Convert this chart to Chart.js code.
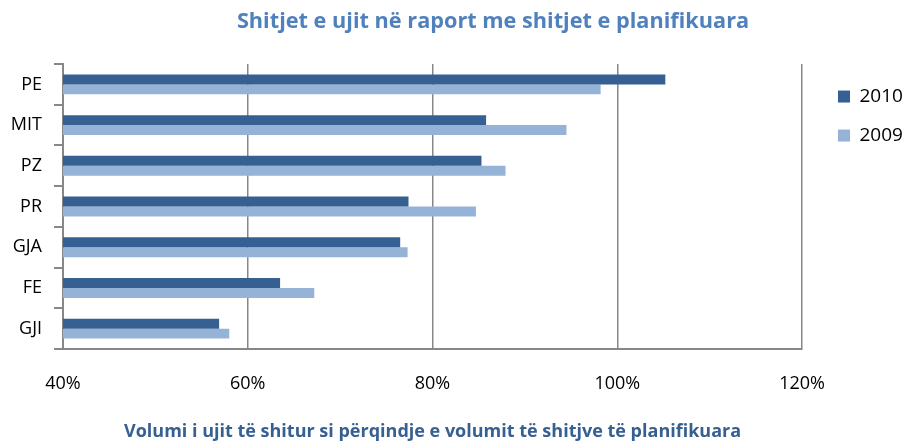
<!DOCTYPE html>
<html>
<head>
<meta charset="utf-8">
<script src="https://cdn.jsdelivr.net/npm/chart.js@4"></script>
<style>
html,body{margin:0;padding:0;background:#fff;}
#wrap{width:903px;height:444px;}
</style>
</head>
<body>
<div id="wrap"><canvas id="c" width="903" height="444"></canvas></div>
<script>
const categories = ['PE', 'MIT', 'PZ', 'PR', 'GJA', 'FE', 'GJI'];
const series2010 = [105.2, 85.8, 85.3, 77.4, 76.5, 63.5, 56.9];
const series2009 = [98.2, 94.5, 87.9, 84.7, 77.3, 67.2, 58.0];
const xTicks = [40, 60, 80, 100, 120];
const chartTitle = 'Shitjet e ujit në raport me shitjet e planifikuara';
const xTitle = 'Volumi i ujit të shitur si përqindje e volumit të shitjve të planifikuara';

const FONT = "'Open Sans', 'Liberation Sans', sans-serif";
const GRID = '#878787';

const placeBlocks = {
  id: 'placeBlocks',
  afterLayout(chart) {
    if (chart.titleBlock) { chart.titleBlock.left = 83; chart.titleBlock.right = 903; }
    if (chart.legend) {
      const w = chart.legend.right - chart.legend.left;
      chart.legend.left = 818; chart.legend.right = 818 + w;
      chart.legend.top += 3; chart.legend.bottom += 3;
    }
  }
};

new Chart(document.getElementById('c'), {
  type: 'bar',
  data: {
    labels: categories,
    datasets: [
      { label: '2010', data: series2010, backgroundColor: '#376092', borderWidth: 0 },
      { label: '2009', data: series2009, backgroundColor: '#95B3D7', borderWidth: 0 }
    ]
  },
  plugins: [placeBlocks],
  options: {
    indexAxis: 'y',
    responsive: false,
    animation: false,
    devicePixelRatio: 1,
    layout: { padding: { left: 0, right: 6, top: 0, bottom: 1 } },
    datasets: { bar: { categoryPercentage: 0.49, barPercentage: 1.0 } },
    plugins: {
      title: {
        display: true,
        text: chartTitle,
        color: '#4F81BD',
        font: { family: FONT, size: 21.7, weight: 'bold' },
        padding: { top: 9, bottom: 29 }
      },
      legend: {
        position: 'right',
        align: 'start',
        fullSize: false,
        labels: {
          boxWidth: 12,
          boxHeight: 12,
          padding: 20,
          color: '#000',
          font: { family: FONT, size: 19 }
        }
      },
      tooltip: { enabled: false }
    },
    scales: {
      x: {
        min: 40,
        max: 120,
        afterBuildTicks: (s) => { s.ticks = xTicks.map(v => ({ value: v })); },
        ticks: {
          color: '#000',
          font: { family: FONT, size: 18 },
          padding: 24,
          callback: (v) => v + '%'
        },
        grid: { color: GRID, lineWidth: 1.5, drawTicks: false },
        border: { color: GRID, width: 2 },
        title: {
          display: true,
          text: xTitle,
          color: '#376092',
          font: { family: FONT, size: 18, weight: 'bold' },
          padding: { top: 20, bottom: 0 }
        },
        afterFit: (s) => { s.height = 94; }
      },
      y: {
        ticks: {
          color: '#000',
          font: { family: FONT, size: 18 },
          padding: 12
        },
        grid: { color: GRID, lineWidth: 2, drawOnChartArea: false, drawTicks: true, tickLength: 9, offset: true },
        border: { color: GRID, width: 2 },
        afterFit: (s) => { s.width = 63; }
      }
    }
  }
});
</script>
</body>
</html>
